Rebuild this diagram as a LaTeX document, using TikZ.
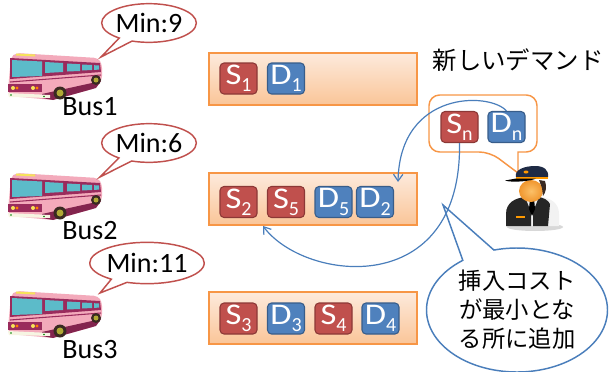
\documentclass[tikz,border=0pt]{standalone}
\usepackage{fontspec}
\setmainfont{Carlito}
\newfontfamily\jp{Noto Sans CJK JP}
\usetikzlibrary{shapes.callouts,shapes.geometric,arrows.meta,shadows}

\definecolor{redbox}{HTML}{C0504D}
\definecolor{redline}{HTML}{8C3836}
\definecolor{bluebox}{HTML}{4F81BD}
\definecolor{blueline}{HTML}{385D8A}
\definecolor{orline}{HTML}{F79646}
\definecolor{ortop}{HTML}{FDEADC}
\definecolor{orbot}{HTML}{FAC598}
\definecolor{arrowblue}{HTML}{4A7EBB}
\definecolor{buspink}{HTML}{F3AABB}
\definecolor{busmag}{HTML}{9A2B5C}
\definecolor{busglass}{HTML}{5CBBC9}
\definecolor{busyellow}{HTML}{F6E35A}
\definecolor{capblue}{HTML}{1F2B45}
\definecolor{hair}{HTML}{3A2A22}
\definecolor{skin}{HTML}{FBC068}
\definecolor{skindark}{HTML}{F0962E}

% label of a stop box: letter plus lowered index
\newcommand\boxlabel[2]{\scalebox{1.15}[1]{#1}\raisebox{-5.5pt}{\fontsize{15}{15}\selectfont #2}}

\tikzset{
  rowbox/.style={draw=orline, line width=0.9pt, top color=ortop, bottom color=orbot,
    minimum width=156pt, minimum height=39pt, inner sep=0pt,
    drop shadow={opacity=0.2, shadow xshift=1pt, shadow yshift=-1pt}},
  stopbox/.style={rounded corners=3pt, line width=0.8pt, minimum width=27.75pt,
    minimum height=23.25pt, inner sep=0pt, text=white, font=\fontsize{22.5}{22.5}\selectfont},
  sbox/.style={stopbox, fill=redbox, draw=redline},
  dbox/.style={stopbox, fill=bluebox, draw=blueline},
  minbubble/.style={ellipse callout, draw=redbox, line width=1.1pt, fill=white,
    minimum width=71pt, minimum height=29pt, inner sep=0pt, callout pointer arc=18,
    font=\fontsize{21}{21}\selectfont},
  buslabel/.style={font=\fontsize{21}{21}\selectfont, inner sep=0pt},
  conn/.style={draw=arrowblue, line width=0.9pt, -{Straight Barb[length=5pt,width=7pt]}},
  costbubble/.style={ellipse callout, draw=arrowblue, line width=1.1pt, fill=white,
    minimum width=135.75pt, minimum height=93pt, inner sep=0pt, callout pointer arc=22,
    align=center, font=\jp\fontsize{17.5}{21.75}\selectfont},
  pics/bus/.style={code={
    % body
    \fill[buspink, rounded corners=3] (3,5) -- (8,1) -- (90,6) -- (94,12) -- (94,28)
      -- (88,36) -- (45,48) -- (2,44) -- (0,38) -- cycle;
    % roof light
    \fill[busyellow] (8,1.5) -- (27,2.5) -- (27,4.5) -- (8,3.5) -- cycle;
    % window band
    \fill[busmag] (2,6) -- (92,11) -- (93,20) -- (2,27) -- cycle;
    \fill[busglass] (4,8) -- (34,9.5) -- (34,24) -- (4,25) -- cycle;
    \fill[busglass] (37,10) -- (55,11) -- (55,20) -- (37,21) -- cycle;
    \fill[busglass] (59,11.5) -- (72,12.2) -- (72,19) -- (59,19.5) -- cycle;
    \fill[busglass] (74,12.5) -- (84,13) -- (84,18) -- (74,18.5) -- cycle;
    \fill[busglass] (86,13.2) -- (91,13.5) -- (91,17.6) -- (86,17.9) -- cycle;
    % belt line
    \draw[busmag, line width=0.8pt] (2,30) -- (93,23);
    % lower skirt
    \fill[busmag!85!black] (34,42) -- (93,29) -- (88,36) -- (45,48) -- (34,46) -- cycle;
    % front lamps band and bumper
    \fill[busmag] (0,32) -- (34,32) -- (34,40) -- (0,40) -- cycle;
    \fill[busyellow] (5,36) circle (2);
    \fill[orange] (9,36) circle (1.6);
    \fill[busyellow] (25,36) circle (2);
    \fill[orange] (29,36) circle (1.6);
    \fill[white!92!olive] (0,41) -- (42,43) -- (42,46) -- (1,45) -- cycle;
    \fill[green!50!black] (3,43) circle (0.9);
    \fill[green!50!black] (36,44.5) circle (0.9);
    % wheels
    \fill[hair] (52,41) circle (6.5);
    \fill[olive!70!white] (52,41) circle (3.5);
    \fill[hair] (88,28) circle (5);
    \fill[olive!70!white] (88,28) circle (2.5);
  }}
}

\begin{document}
\begin{tikzpicture}[x=0.75pt, y=-0.75pt]
\useasboundingbox (0,0) rectangle (610,371);

% buses with their waiting-time bubbles
\pic (bus1) at (8,52) {bus};
\pic (bus2) at (8,172) {bus};
\pic (bus3) at (8,290) {bus};
\node[buslabel] (b1) at (90,107) {Bus1};
\node[buslabel] (b2) at (90,231) {Bus2};
\node[buslabel] (b3) at (90,350) {Bus3};
\coordinate (p1) at (101,57);
\coordinate (p2) at (100,177);
\coordinate (p3) at (100,293);
\node[minbubble, callout absolute pointer={(p1)}] (m1) at (149,23) {Min:9};
\node[minbubble, callout absolute pointer={(p2)}] (m2) at (149,143) {Min:6};
\node[minbubble, callout absolute pointer={(p3)}, minimum height=31pt] (m3) at (147,263) {Min:11};

% routes
\node[rowbox] (row1) at (313,79) {};
\node[rowbox] (row2) at (313,199) {};
\node[rowbox] (row3) at (313,318) {};

\node[sbox] (s1) at (238.5,78.5) {\boxlabel{S}{1}};
\node[dbox] (d1) at (286,78.5) {\boxlabel{D}{1}};

\node[sbox] (s2) at (238.5,202) {\boxlabel{S}{2}};
\node[sbox] (s5) at (286,202) {\boxlabel{S}{5}};
\node[dbox] (d5) at (333.5,202) {\boxlabel{D}{5}};
\node[dbox] (d2) at (375,202) {\boxlabel{D}{2}};

\node[sbox] (s3) at (238.5,318.5) {\boxlabel{S}{3}};
\node[dbox] (d3) at (286,318.5) {\boxlabel{D}{3}};
\node[sbox] (s4) at (333.5,318.5) {\boxlabel{S}{4}};
\node[dbox] (d4) at (380.5,318.5) {\boxlabel{D}{4}};

% new demand
\node[font=\jp\fontsize{18.3}{18.3}\selectfont, inner sep=0pt] (title) at (518,60) {新しいデマンド};
\draw[orline, line width=1.1pt, fill=white]
  (480,95) [rounded corners=8] -- (429,95) -- (429,152) -- (490,152)
  [sharp corners] -- (518,173) -- (518,152)
  [rounded corners=8] -- (537,152) -- (537,95) -- cycle;
\node[sbox] (sn) at (459.5,127) {\boxlabel{S}{n}};
\node[dbox] (dn) at (506.5,127) {\boxlabel{D}{n}};

% dispatcher
\begin{scope}[shift={(532,196)}]
  \fill[black!30, opacity=0.5] (3,31) ellipse [x radius=28, y radius=4];
  \fill[white!90!gray] (-26,30) -- (-26,18) .. controls (-26,6) and (-16,2) .. (-5,1)
    -- (8,1) .. controls (20,2) and (27,8) .. (27,18) -- (27,30) -- cycle;
  \fill[black!85] (-26,30) -- (-26,18) .. controls (-26,6) and (-16,2) .. (-7,1)
    -- (-1,16) -- (-1,30) -- cycle;
  \fill[black!85] (1,30) -- (1,16) -- (7,1) .. controls (12,2) and (16,4) .. (18,8)
    -- (16,30) -- cycle;
  \fill[black] (-2,2) -- (2,2) -- (3,13) -- (0,20) -- (-3,13) -- cycle;
  \fill[orange!80!yellow] (-16,20) rectangle (-7,21.5);
  \shade[inner color=skin, outer color=skindark] (-1,-5) ellipse [x radius=12, y radius=11];
  \fill[hair] (7,-16) -- (13,-15) .. controls (15,-9) and (14,-4) .. (11,0)
    -- (10,-8) -- cycle;
  \fill[capblue] (-16,-19) .. controls (-18,-26) and (-8,-30) .. (3,-30)
    .. controls (12,-30) and (17,-26) .. (16,-19) -- cycle;
  \fill[orange!80!yellow] (-16,-19) -- (16,-19) -- (16,-17.5) -- (-16,-17.5) -- cycle;
  \fill[black] (-16,-17.5) -- (4,-17.5) .. controls (0,-15) and (-20,-13) .. (-27,-15.5) -- cycle;
  \fill[orange!80!yellow] (-6,-24) ellipse [x radius=2.5, y radius=1.5];
\end{scope}

% insertion explanation
\coordinate (tip) at (443,205);
\node[costbubble, callout absolute pointer={(tip)}] (cost) at (517,310)
  {挿入コスト\\が最小とな\\る所に追加};

% insertion arrows
\coordinate (t1) at (398,182);
\coordinate (t2) at (263,226);
\draw[conn] (dn.north) .. controls (490,92) and (400,90) .. (t1);
\draw[conn] (sn.south) .. controls (462,300) and (305,282) .. (t2);
\end{tikzpicture}
\end{document}
